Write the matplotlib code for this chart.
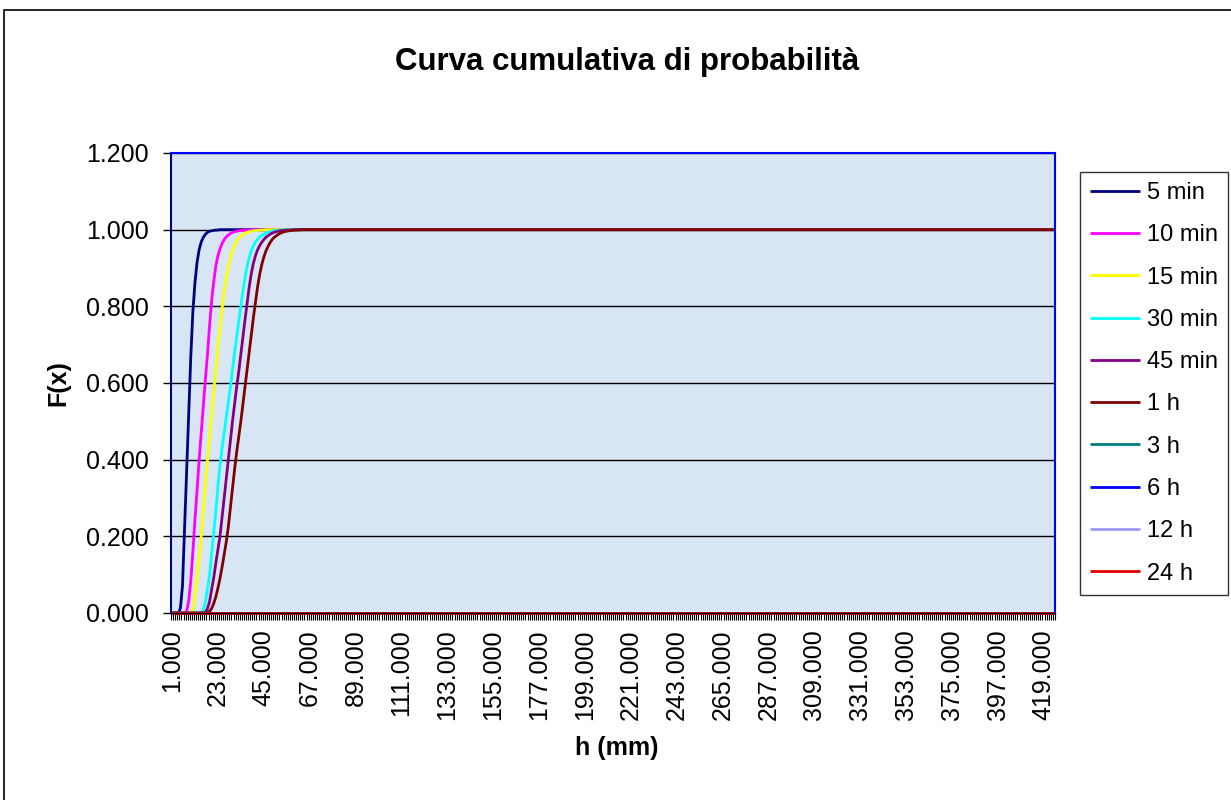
import matplotlib
matplotlib.use('Agg')
import matplotlib.pyplot as plt
from matplotlib.patches import Rectangle
import numpy as np

plt.rcParams['font.family'] = ['Liberation Sans', 'DejaVu Sans']

# ---------------- data ----------------
N_CAT = 424
h_mm = list(range(1, N_CAT + 1))          # categories on the x axis (h in mm)

# rising parts of the cumulative curves (from h = 1);
# after the listed values each curve stays at 1.000
f_5min = [0.000, 0.000, 0.000, 0.000, 0.012, 0.070, 0.220, 0.370, 0.520, 0.670,
          0.787, 0.862, 0.915, 0.948, 0.968, 0.980, 0.988, 0.993, 0.996, 0.997,
          0.998, 0.999, 0.999]
f_10min = [0.000, 0.000, 0.000, 0.000, 0.000, 0.000, 0.000, 0.005, 0.030, 0.085,
           0.160, 0.245, 0.320, 0.400, 0.470, 0.540, 0.610, 0.675, 0.750, 0.815,
           0.865, 0.905, 0.932, 0.950, 0.964, 0.974, 0.981, 0.986, 0.990, 0.993,
           0.995, 0.996, 0.997, 0.998, 0.998, 0.999, 0.999, 0.999]
f_15min = [0.000, 0.000, 0.000, 0.000, 0.000, 0.000, 0.000, 0.000, 0.000, 0.000,
           0.008, 0.048, 0.091, 0.145, 0.200, 0.270, 0.335, 0.400, 0.460, 0.520,
           0.580, 0.635, 0.690, 0.745, 0.795, 0.840, 0.875, 0.905, 0.928, 0.946,
           0.959, 0.969, 0.977, 0.983, 0.987, 0.990, 0.993, 0.995, 0.996, 0.997,
           0.998, 0.998, 0.999, 0.999, 0.999]
f_30min = [0.000, 0.000, 0.000, 0.000, 0.000, 0.000, 0.000, 0.000, 0.000, 0.000,
           0.000, 0.000, 0.000, 0.000, 0.000, 0.008, 0.030, 0.063, 0.100, 0.155,
           0.210, 0.265, 0.330, 0.385, 0.430, 0.470, 0.510, 0.550, 0.590, 0.635,
           0.680, 0.720, 0.760, 0.800, 0.840, 0.875, 0.905, 0.928, 0.945, 0.958,
           0.968, 0.975, 0.981, 0.985, 0.988, 0.991, 0.993, 0.995, 0.996, 0.997,
           0.998, 0.998, 0.999, 0.999]
f_45min = [0.000, 0.000, 0.000, 0.000, 0.000, 0.000, 0.000, 0.000, 0.000, 0.000,
           0.000, 0.000, 0.000, 0.000, 0.000, 0.000, 0.001, 0.012, 0.030, 0.062,
           0.092, 0.130, 0.165, 0.200, 0.250, 0.300, 0.350, 0.400, 0.450, 0.500,
           0.545, 0.590, 0.630, 0.675, 0.720, 0.765, 0.807, 0.850, 0.885, 0.912,
           0.932, 0.947, 0.958, 0.967, 0.974, 0.980, 0.984, 0.988, 0.991, 0.993,
           0.995, 0.996, 0.997, 0.998, 0.998, 0.999, 0.999, 0.999]
f_1h = [0.000, 0.000, 0.000, 0.000, 0.000, 0.000, 0.000, 0.000, 0.000, 0.000,
        0.000, 0.000, 0.000, 0.000, 0.000, 0.000, 0.000, 0.000, 0.004, 0.012,
        0.025, 0.042, 0.065, 0.090, 0.120, 0.152, 0.185, 0.225, 0.275, 0.325,
        0.375, 0.420, 0.460, 0.500, 0.545, 0.590, 0.635, 0.680, 0.725, 0.770,
        0.810, 0.850, 0.882, 0.908, 0.928, 0.944, 0.956, 0.966, 0.974, 0.980,
        0.984, 0.988, 0.991, 0.993, 0.995, 0.996, 0.997, 0.998, 0.998, 0.999,
        0.999, 0.999]
PLATEAU = 1.000
ZERO = 0.000   # 3 h, 6 h, 12 h, 24 h stay at 0 over the whole range

series_labels = ['5 min', '10 min', '15 min', '30 min', '45 min', '1 h',
                 '3 h', '6 h', '12 h', '24 h']
series_colors = ['#000080', '#FF00FF', '#FFFF00', '#00FFFF', '#800080',
                 '#800000', '#008080', '#0000FF', '#9999FF', '#E00000']
y_ticks = [0.0, 0.2, 0.4, 0.6, 0.8, 1.0, 1.2]
x_label_step = 22


def full(vals):
    return vals + [PLATEAU] * (N_CAT - len(vals))


series_values = [full(f_5min), full(f_10min), full(f_15min), full(f_30min),
                 full(f_45min), full(f_1h),
                 [ZERO] * N_CAT, [ZERO] * N_CAT, [ZERO] * N_CAT, [ZERO] * N_CAT]

# ---------------- figure ----------------
W, H = 1231, 800
fig = plt.figure(figsize=(W / 100, H / 100), dpi=100)
fig.patch.set_facecolor('white')

# outer chart border (only left/top visible in the frame)
fig.add_artist(Rectangle((4 / W, -0.1), 1.2, 1.1 - 10 / H,
                         transform=fig.transFigure, fill=False,
                         ec='black', lw=1.2))

ax = fig.add_axes([171 / W, 1 - 613 / H, (1055 - 171) / W, (613 - 153) / H])
ax.set_facecolor('#d8e5f5')

xpos = np.arange(N_CAT)
for vals, lab, col in zip(series_values, series_labels, series_colors):
    ax.plot(xpos, vals, color=col, lw=2.0, label=lab, clip_on=False,
            solid_joinstyle='round', solid_capstyle='butt')

ax.set_xlim(-0.5, N_CAT - 0.5)
ax.set_ylim(0, 1.2)

ax.set_yticks(y_ticks)
ax.set_yticklabels([f'{v:.3f}' for v in y_ticks])
ax.yaxis.grid(True, color='black', lw=1.0)
ax.tick_params(axis='y', direction='out', length=6, width=1, color='black',
               labelsize=18, pad=10)

lab_idx = list(range(0, N_CAT, x_label_step))
ax.set_xticks(lab_idx)
ax.set_xticklabels([f'{h_mm[i]:.3f}' for i in lab_idx], rotation=90)
ax.set_xticks(np.arange(-0.5, N_CAT, 1), minor=True)
ax.tick_params(axis='x', which='major', length=0, labelsize=18, pad=12)
ax.tick_params(axis='x', which='minor', direction='out', length=5, width=0.8,
               color='black')

ax.spines['left'].set_color('#000080')
ax.spines['left'].set_linewidth(1.5)
ax.spines['top'].set_color('#0000FF')
ax.spines['top'].set_linewidth(1.5)
ax.spines['right'].set_color('#0000FF')
ax.spines['right'].set_linewidth(1.5)
ax.spines['bottom'].set_color('black')
ax.spines['bottom'].set_linewidth(1.0)

fig.text(627 / W, 1 - 62 / H, 'Curva cumulativa di probabilità',
         ha='center', va='center', fontsize=22.5, fontweight='bold')
fig.text(58 / W, 1 - 383 / H, 'F(x)', rotation=90, ha='center', va='center',
         fontsize=18, fontweight='bold')
fig.text(617 / W, 1 - 748 / H, 'h (mm)', ha='center', va='center',
         fontsize=18, fontweight='bold')

leg = fig.legend(loc='upper left', bbox_to_anchor=(1080 / W, 1 - 172 / H),
                 frameon=True, fancybox=False, edgecolor='black', fontsize=17,
                 handlelength=2.1, handletextpad=0.3, labelspacing=0.86,
                 borderpad=0.42, borderaxespad=0)
leg.get_frame().set_linewidth(1.0)

fig.savefig('out.png', dpi=100)
